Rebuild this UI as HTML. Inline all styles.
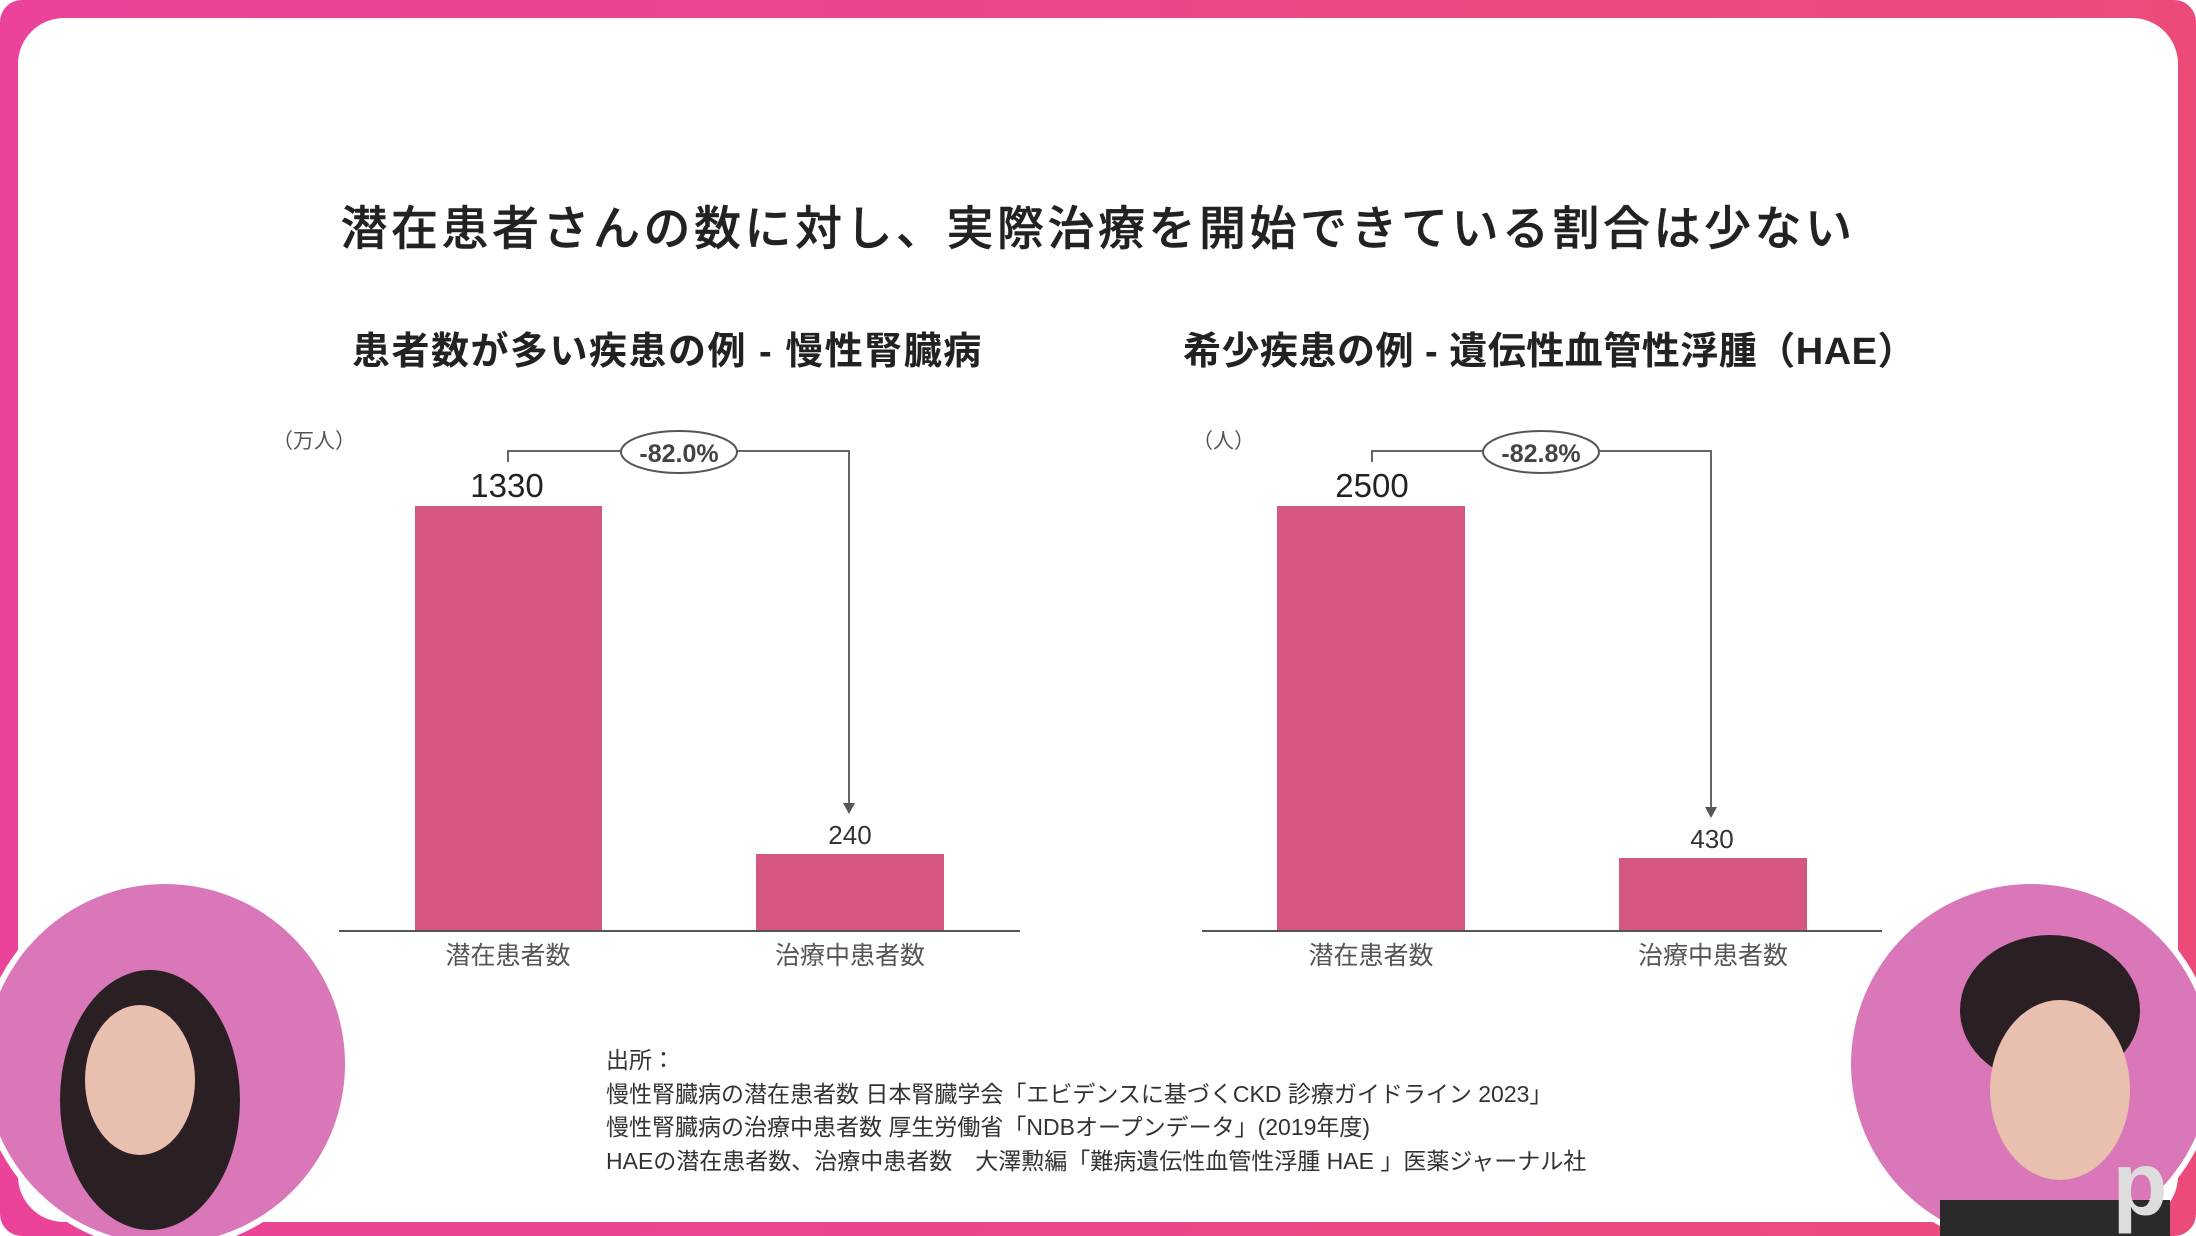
<!DOCTYPE html>
<html><head><meta charset="utf-8"><style>
body{margin:0;width:2196px;height:1236px;overflow:hidden;background:#fff;font-family:"Liberation Sans","Noto Sans CJK JP",sans-serif}
.frame{position:absolute;left:0;top:0;width:2196px;height:1236px;background:linear-gradient(90deg,#ea4399,#ec4b7a);border-radius:22px}
.inner{position:absolute;left:18px;top:18px;width:2160px;height:1204px;background:#fff;border-radius:46px}
.t{position:absolute;white-space:nowrap;color:#222}
</style></head><body>
<div class="frame"></div><div class="inner"></div>
<div class="t" style="left:0;width:2196px;text-align:center;top:190px;font-size:47px;letter-spacing:3.5px;font-weight:500;-webkit-text-stroke:0.4px #222">潜在患者さんの数に対し、実際治療を開始できている割合は少ない</div>
<div class="t" style="left:352px;top:320px;font-size:38px;letter-spacing:1.5px;font-weight:bold">患者数が多い疾患の例 - 慢性腎臓病</div>
<div class="t" style="left:1183px;top:320px;font-size:38px;letter-spacing:0.5px;font-weight:bold">希少疾患の例 - 遺伝性血管性浮腫（HAE）</div>
<svg style="position:absolute;left:0;top:0" width="2196" height="1236">
<g font-family="Liberation Sans,Noto Sans CJK JP,sans-serif">
<text x="272" y="448" font-size="21" fill="#555">（万人）</text>
<text x="1192" y="448" font-size="21" fill="#555">（人）</text>
<rect x="415" y="506" width="187" height="425" fill="#d5577f"/>
<rect x="756" y="854" width="188" height="77" fill="#d5577f"/>
<rect x="1277" y="506" width="188" height="425" fill="#d5577f"/>
<rect x="1619" y="858" width="188" height="73" fill="#d5577f"/>
<line x1="339" y1="931" x2="1020" y2="931" stroke="#555" stroke-width="2"/>
<line x1="1202" y1="931" x2="1882" y2="931" stroke="#555" stroke-width="2"/>
<polyline points="508,462 508,451 849,451 849,805" fill="none" stroke="#666" stroke-width="2"/>
<polygon points="843,803 855,803 849,814" fill="#555"/>
<ellipse cx="679" cy="452" rx="58" ry="21" fill="#fff" stroke="#555" stroke-width="2"/>
<text x="679" y="462" font-size="25" font-weight="bold" fill="#444" text-anchor="middle">-82.0%</text>
<polyline points="1372,462 1372,451 1711,451 1711,809" fill="none" stroke="#666" stroke-width="2"/>
<polygon points="1705,807 1717,807 1711,818" fill="#555"/>
<ellipse cx="1541" cy="452" rx="58" ry="21" fill="#fff" stroke="#555" stroke-width="2"/>
<text x="1541" y="462" font-size="25" font-weight="bold" fill="#444" text-anchor="middle">-82.8%</text>
<text x="507" y="497" font-size="33" fill="#222" text-anchor="middle">1330</text>
<text x="850" y="844" font-size="26" fill="#333" text-anchor="middle">240</text>
<text x="1372" y="497" font-size="33" fill="#222" text-anchor="middle">2500</text>
<text x="1712" y="848" font-size="26" fill="#333" text-anchor="middle">430</text>
<text x="508" y="964" font-size="25" fill="#555" text-anchor="middle">潜在患者数</text>
<text x="850" y="964" font-size="25" fill="#555" text-anchor="middle">治療中患者数</text>
<text x="1371" y="964" font-size="25" fill="#555" text-anchor="middle">潜在患者数</text>
<text x="1713" y="964" font-size="25" fill="#555" text-anchor="middle">治療中患者数</text>
<g font-size="23" fill="#333">
<text x="606" y="1068">出所：</text>
<text x="606" y="1102">慢性腎臓病の潜在患者数 日本腎臓学会「エビデンスに基づくCKD 診療ガイドライン 2023」</text>
<text x="606" y="1135">慢性腎臓病の治療中患者数 厚生労働省「NDBオープンデータ」(2019年度)</text>
<text x="606" y="1169">HAEの潜在患者数、治療中患者数　大澤勲編「難病遺伝性血管性浮腫 HAE 」医薬ジャーナル社</text>
</g>
</g>
<circle cx="165" cy="1064" r="186" fill="#fff"/>
<circle cx="165" cy="1064" r="180" fill="#d977b8"/>
<ellipse cx="150" cy="1100" rx="90" ry="130" fill="#2a2024"/>
<ellipse cx="140" cy="1080" rx="55" ry="75" fill="#e9c0b0"/>
<circle cx="2031" cy="1064" r="186" fill="#fff"/>
<circle cx="2031" cy="1064" r="180" fill="#d977b8"/>
<ellipse cx="2050" cy="1010" rx="90" ry="75" fill="#2a2024"/>
<ellipse cx="2060" cy="1090" rx="70" ry="90" fill="#e9c0b0"/>
<rect x="1940" y="1200" width="230" height="36" fill="#2a2a2a"/>
<text x="2140" y="1215" font-size="90" font-weight="bold" fill="#ddd" text-anchor="middle" font-family="Liberation Sans,sans-serif">p</text>
</svg>
</body></html>
